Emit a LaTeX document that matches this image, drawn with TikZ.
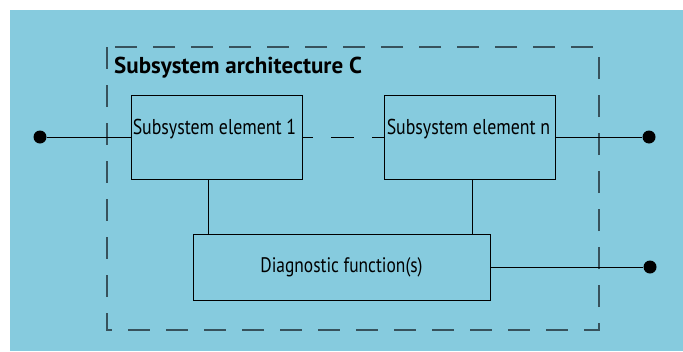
\documentclass[tikz,border=0pt]{standalone}
\usepackage{fontspec}
\setmainfont{PT Sans}[FakeStretch=0.83]
\newfontfamily\titlefont{PT Sans}
\usetikzlibrary{positioning,calc}
\definecolor{skyblue}{RGB}{134,203,222}
\definecolor{dashgrey}{RGB}{55,82,92}

\begin{document}
\begin{tikzpicture}[
  x=1pt,y=-1pt,
  elem/.style={draw=black,line width=0.9pt,minimum width=171pt,minimum height=84pt,inner sep=0pt},
  diag/.style={draw=black,line width=0.9pt,minimum width=297pt,minimum height=66pt,inner sep=0pt,font=\fontsize{21}{24}\selectfont},
  lbl/.style={inner sep=0pt,font=\fontsize{21.5}{24}\selectfont},
  title/.style={inner sep=0pt,font=\titlefont\fontsize{23}{26}\selectfont\bfseries},
  wire/.style={line width=0.8pt,draw=black},
  dot/.style={circle,fill=black,inner sep=0pt,minimum size=13pt}
]
\useasboundingbox (0,0) rectangle (683,351);
\fill[skyblue] (10,10) rectangle (683,351);
\draw[dashgrey,line width=1.4pt,dash pattern=on 22pt off 16pt] (107,47) rectangle (599,330);
\node[title,anchor=base west] (arch) at (114,73) {Subsystem architecture C};
% elements
\node[elem] (e1) at (216.5,137) {};
\node[elem] (en) at (469.5,137) {};
\node[lbl,anchor=base west] (e1t) at ([xshift=2pt,yshift=3pt]e1.west) {Subsystem element 1};
\node[lbl,anchor=base west] (ent) at ([xshift=3pt,yshift=3pt]en.west) {Subsystem element n};
\node[diag] (df) at (341.5,267) {Diagnostic function(s)};
% terminals
\node[dot] (in1) at (40,137) {};
\node[dot] (out1) at (649,137) {};
\node[dot] (out2) at (650,267) {};
\draw[wire] (in1) -- (e1.west);
\draw[wire,dash pattern=on 23pt off 18pt,dash phase=12pt] (e1.east) -- (en.west);
\draw[wire] (en.east) -- (out1);
\draw[wire] ([xshift=-8.5pt]e1.south) -- ([xshift=-8.5pt]e1.south |- df.north);
\draw[wire] ([xshift=2.5pt]en.south) -- ([xshift=2.5pt]en.south |- df.north);
\draw[wire] (df.east) -- (out2);
\end{tikzpicture}
\end{document}
